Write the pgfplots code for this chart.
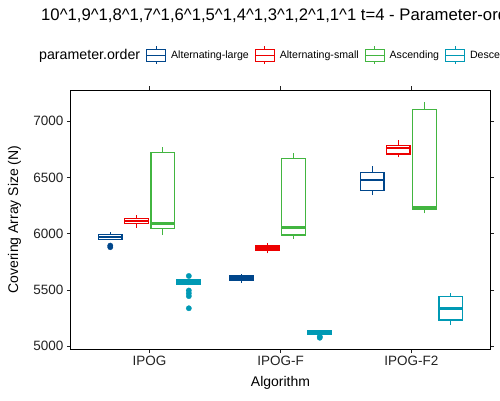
\documentclass[border=0pt]{standalone}
\usepackage{pgfplots}
\pgfplotsset{compat=1.18}
\usepackage{fontspec}
\setmainfont{Liberation Sans}
\definecolor{cA}{HTML}{00468B}
\definecolor{cB}{HTML}{ED0000}
\definecolor{cC}{HTML}{42B540}
\definecolor{cD}{HTML}{0099B4}
\definecolor{txt}{HTML}{222222}
\newcommand{\boxkey}[1]{\addlegendimage{legend image code/.code={%
  \draw[#1,line width=0.9pt,fill=white] (0pt,-6pt) rectangle (19pt,6pt);
  \draw[#1,line width=0.9pt] (0pt,0pt)--(19pt,0pt) (9.5pt,6pt)--(9.5pt,9pt) (9.5pt,-6pt)--(9.5pt,-9pt);}}}
% #1 colour, #2 left, #3 centre, #4 right, #5 lower whisker, #6 lower quartile, #7 median, #8 upper quartile, #9 upper whisker
\newcommand{\bbox}[9]{%
  \addplot[#1, line width=1.3pt, forget plot] coordinates {(#3,#5) (#3,#9)};
  \addplot[draw=#1, fill=white, line width=1.3pt, forget plot] coordinates {(#2,#6) (#4,#6) (#4,#8) (#2,#8)} -- cycle;
  \addplot[#1, line width=2.6pt, forget plot] coordinates {(#2,#7) (#4,#7)};
}
\pgfplotsset{outl/.style={forget plot, only marks, mark=*, mark size=2.7pt,
    mark options={solid, fill=#1, draw=#1, line width=0.3pt}}}
\begin{document}
\begin{tikzpicture}
\useasboundingbox (0pt,0pt) rectangle (500pt,400pt);
\clip (0pt,0pt) rectangle (500pt,400pt);
\node[anchor=base west, font=\fontsize{16.7}{19}\selectfont, inner sep=0pt] at (41pt,379.3pt)
  {10\textasciicircum{}1,9\textasciicircum{}1,8\textasciicircum{}1,7\textasciicircum{}1,6\textasciicircum{}1,5\textasciicircum{}1,4\textasciicircum{}1,3\textasciicircum{}1,2\textasciicircum{}1,1\textasciicircum{}1 t=4 - Parameter-order};
\begin{axis}[
  at={(71pt,51pt)}, anchor=south west,
  scale only axis, width=419pt, height=259pt,
  xmin=0.4, xmax=3.6, ymin=4975, ymax=7277,
  xtick={1,2,3}, xticklabels={IPOG,IPOG-F,IPOG-F2},
  ytick={5000,5500,6000,6500,7000},
  scaled y ticks=false,
  /pgf/number format/assume math mode=true,
  yticklabel={\pgfmathprintnumber[fixed,precision=0,1000 sep={}]{\tick}},
  tick align=outside, major tick length=4pt,
  tick style={txt, line width=0.8pt},
  axis line style={black, line width=1pt},
  ticklabel style={font=\fontsize{13.5}{15}\selectfont, text=txt},
  xlabel={Algorithm}, ylabel={Covering Array Size (N)},
  every axis x label/.style={at={(axis description cs:0.5,-0.1313)}, anchor=center, font=\fontsize{14}{16}\selectfont},
  every axis y label/.style={at={(axis description cs:-0.1348,0.5)}, rotate=90, anchor=center, font=\fontsize{14}{16}\selectfont},
  legend columns=-1,
  legend style={at={(axis description cs:-0.0883,1.1351)}, anchor=west, draw=none, fill=none,
    inner sep=0pt, font=\fontsize{10.6}{12}\selectfont,
    nodes={inner xsep=0pt, inner ysep=1pt},
    /tikz/every even column/.append style={column sep=6pt},
    /tikz/every odd column/.append style={column sep=5pt}},
]
\addlegendimage{empty legend}
\addlegendentry{\fontsize{14.2}{16}\selectfont parameter.order}
\boxkey{cA}\addlegendentry{Alternating-large}
\boxkey{cB}\addlegendentry{Alternating-small}
\boxkey{cC}\addlegendentry{Ascending}
\boxkey{cD}\addlegendentry{Descending}

% IPOG
\bbox{cA}{0.61}{0.7}{0.79}{5948}{5950}{5970}{5990}{6014}
\addplot[outl=cA] coordinates {(0.7,5894) (0.7,5880)};
\bbox{cB}{0.81}{0.9}{0.99}{6053}{6092}{6112}{6132}{6163}
\bbox{cC}{1.01}{1.1}{1.19}{5988}{6044}{6092}{6722}{6772}
\bbox{cD}{1.21}{1.3}{1.39}{5540}{5547}{5568}{5588}{5600}
\addplot[outl=cD] coordinates {(1.3,5624) (1.3,5495) (1.3,5470) (1.3,5445) (1.3,5337)};
% IPOG-F
\bbox{cA}{1.61}{1.7}{1.79}{5564}{5582}{5603}{5624}{5641}
\bbox{cB}{1.81}{1.9}{1.99}{5825}{5848}{5870}{5890}{5914}
\bbox{cC}{2.01}{2.1}{2.19}{5955}{5988}{6056}{6668}{6713}
\bbox{cD}{2.21}{2.3}{2.39}{5100}{5102}{5120}{5138}{5147}
\addplot[outl=cD] coordinates {(2.3,5086) (2.3,5075)};
% IPOG-F2
\bbox{cA}{2.61}{2.7}{2.79}{6343}{6385}{6476}{6544}{6603}
\bbox{cB}{2.81}{2.9}{2.99}{6678}{6707}{6763}{6781}{6837}
\bbox{cC}{3.01}{3.1}{3.19}{6180}{6219}{6236}{7104}{7171}
\bbox{cD}{3.21}{3.3}{3.39}{5188}{5233}{5337}{5440}{5470}
\end{axis}
\end{tikzpicture}
\end{document}
